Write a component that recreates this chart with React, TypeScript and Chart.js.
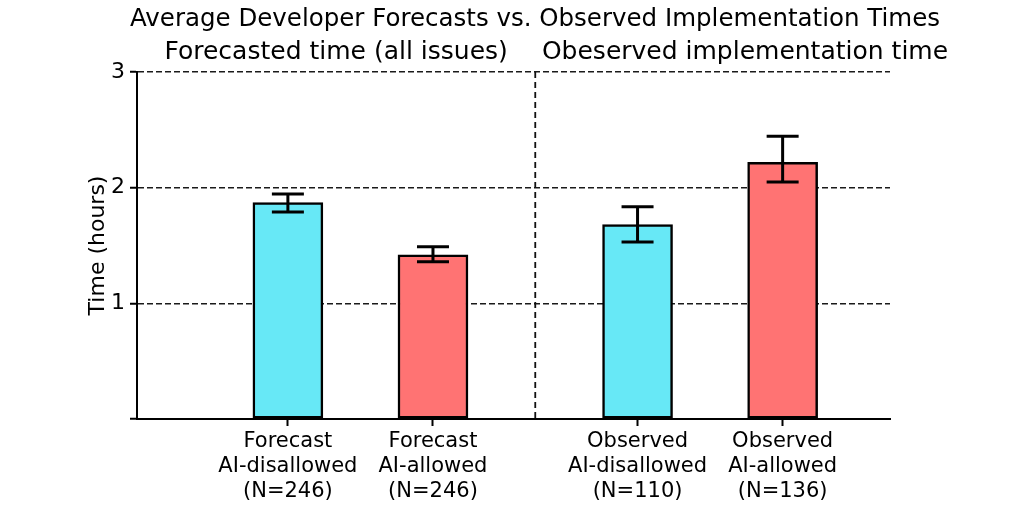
import React, { useEffect, useRef } from "react";
import { Chart, registerables } from "chart.js";

Chart.register(...registerables);

const categories: string[][] = [
  ["Forecast", "AI-disallowed", "(N=246)"],
  ["Forecast", "AI-allowed", "(N=246)"],
  ["Observed", "AI-disallowed", "(N=110)"],
  ["Observed", "AI-allowed", "(N=136)"],
];
const positions = [0, 1, 2.41, 3.41];
const meanHours = [1.87, 1.42, 1.68, 2.22];
const errLow = [1.79, 1.36, 1.53, 2.05];
const errHigh = [1.945, 1.49, 1.835, 2.445];
const barColors = ["#67E8F6", "#FF7373", "#67E8F6", "#FF7373"];
const dividerAt = 1.705;
const yTicks = [0, 1, 2, 3];
const title = "Average Developer Forecasts vs. Observed Implementation Times";
const groupTitles = ["Forecasted time (all issues)", "Obeserved implementation time"];

const FONT = "'DejaVu Sans', sans-serif";

export default function App() {
  const ref = useRef<HTMLCanvasElement | null>(null);

  useEffect(() => {
    if (!ref.current) return;

    const overlay = {
      id: "overlay",
      beforeDatasetsDraw(chart: any) {
        const { ctx, chartArea, scales } = chart;
        const x = scales.x.getPixelForValue(dividerAt);
        ctx.save();
        ctx.strokeStyle = "#111";
        ctx.lineWidth = 1.8;
        ctx.setLineDash([6, 4]);
        ctx.beginPath();
        ctx.moveTo(x, chartArea.top);
        ctx.lineTo(x, chartArea.bottom);
        ctx.stroke();
        ctx.restore();
      },
      afterDatasetsDraw(chart: any) {
        const { ctx, scales } = chart;
        ctx.save();
        ctx.strokeStyle = "#000";
        ctx.lineWidth = 3;
        ctx.setLineDash([]);
        positions.forEach((p, i) => {
          const x = scales.x.getPixelForValue(p);
          const yl = scales.y.getPixelForValue(errLow[i]);
          const yh = scales.y.getPixelForValue(errHigh[i]);
          ctx.beginPath();
          ctx.moveTo(x, yl);
          ctx.lineTo(x, yh);
          ctx.moveTo(x - 16, yl);
          ctx.lineTo(x + 16, yl);
          ctx.moveTo(x - 16, yh);
          ctx.lineTo(x + 16, yh);
          ctx.stroke();
        });
        ctx.restore();
      },
      afterDraw(chart: any) {
        const { ctx, chartArea, scales } = chart;
        const xd = scales.x.getPixelForValue(dividerAt);
        ctx.save();
        ctx.fillStyle = "#000";
        ctx.textAlign = "center";
        ctx.textBaseline = "middle";
        ctx.font = `24.5px ${FONT}`;
        ctx.fillText(title, 535, 20);
        ctx.font = `25px ${FONT}`;
        ctx.fillText(groupTitles[0], (chartArea.left + xd) / 2, 52);
        ctx.fillText(groupTitles[1], 745, 52);
        ctx.restore();
      },
    };

    const chart = new Chart(ref.current, {
      type: "bar",
      data: {
        datasets: [
          {
            data: positions.map((p, i) => ({ x: p, y: meanHours[i] })),
            backgroundColor: barColors,
            borderColor: "#000",
            borderWidth: 2.5,
            borderSkipped: false,
            barThickness: 70,
          } as any,
        ],
      },
      options: {
        animation: false,
        responsive: true,
        maintainAspectRatio: false,
        devicePixelRatio: 1,
        layout: { padding: { left: 85, right: 134, top: 72, bottom: 0 } },
        plugins: {
          legend: { display: false },
          tooltip: { enabled: false },
          title: { display: false },
        },
        scales: {
          x: {
            type: "linear",
            offset: false,
            min: -1.04,
            max: 4.15,
            afterBuildTicks(scale: any) {
              scale.ticks = positions.map((p) => ({ value: p }));
            },
            afterFit(scale: any) {
              scale.height = 93;
            },
            ticks: {
              autoSkip: false,
              maxRotation: 0,
              padding: 3,
              color: "#000",
              font: { family: FONT, size: 21, lineHeight: 1.2 },
              callback: (_v: any, i: number) => categories[i],
            },
            grid: {
              offset: false,
              drawOnChartArea: false,
              drawTicks: true,
              tickLength: 7,
              tickWidth: 2,
              tickColor: "#000",
            },
            border: { display: true, color: "#000", width: 2 },
          } as any,
          y: {
            min: 0,
            max: 3,
            afterBuildTicks(scale: any) {
              scale.ticks = yTicks.map((v) => ({ value: v }));
            },
            afterFit(scale: any) {
              scale.width = 52;
            },
            ticks: {
              padding: 5,
              color: "#000",
              font: { family: FONT, size: 22 },
              callback: (v: any) => (v === 0 ? "" : String(v)),
            },
            grid: {
              color: (c: any) => (c.tick && c.tick.value === 0 ? "rgba(0,0,0,0)" : "#1a1a1a"),
              lineWidth: 1.5,
              drawTicks: true,
              tickLength: 7,
              tickWidth: 2,
              tickColor: "#000",
              tickBorderDash: [],
            },
            border: { display: true, color: "#000", width: 2, dash: [6, 3] },
            title: {
              display: true,
              text: "Time (hours)",
              color: "#000",
              font: { family: FONT, size: 22 },
              padding: { top: 0, bottom: 2 },
            },
          } as any,
        },
      },
      plugins: [overlay],
    });

    return () => chart.destroy();
  }, []);

  return (
    <div style={{ position: "fixed", left: 0, top: 0, width: 1024, height: 512, background: "#fff" }}>
      <canvas ref={ref} />
    </div>
  );
}
